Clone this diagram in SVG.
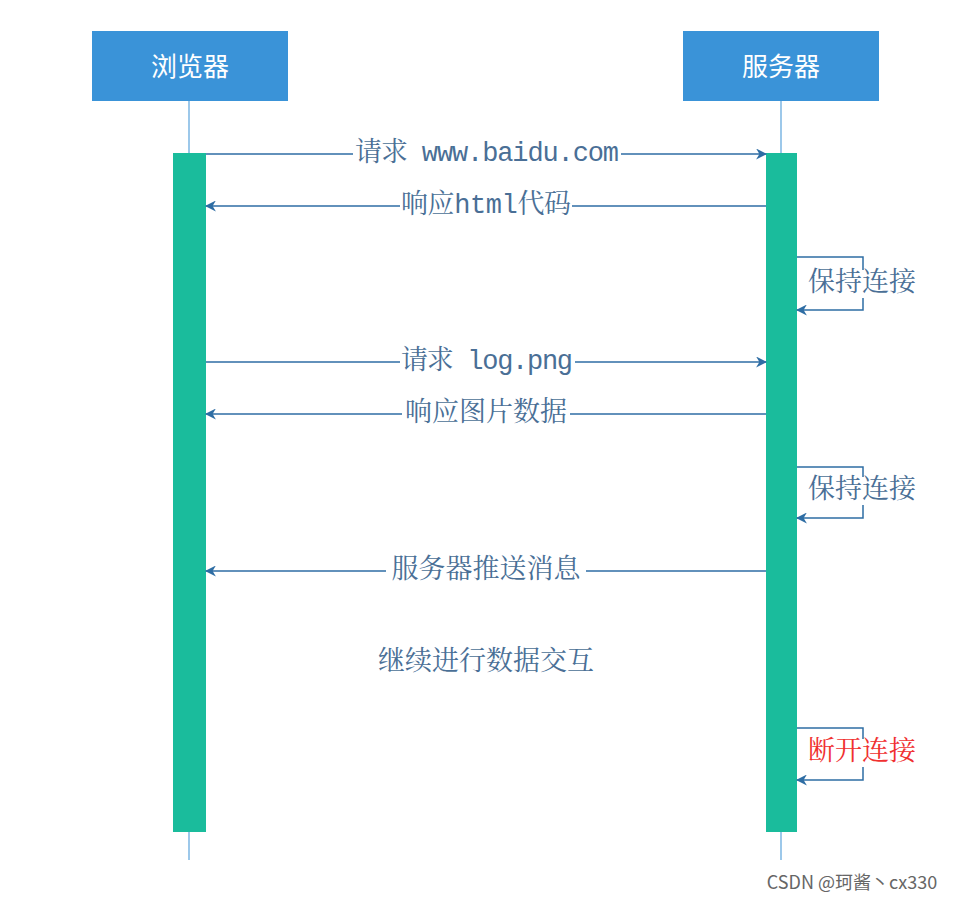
<svg xmlns="http://www.w3.org/2000/svg" width="961" height="901" viewBox="0 0 961 901">
<style>
.head{fill:#3a93d8}
.ht{fill:#fff;font-family:"Noto Sans CJK SC",sans-serif;font-size:26px;text-anchor:middle}
.life{stroke:#5ba3dc;stroke-width:1.2}
.bar{fill:#1abc9c}
.msg{stroke:#2e6da4;stroke-width:1.5;fill:none}
.lbl{font-family:"Liberation Mono","Noto Serif CJK SC","Noto Sans CJK SC",monospace;font-size:27px;fill:#4a6f96;text-anchor:middle;dominant-baseline:central}
.bg{fill:#fff}
</style>
<defs><marker id="ah" viewBox="0 0 10 10" refX="9" refY="5" markerWidth="11" markerHeight="11" markerUnits="userSpaceOnUse" orient="auto"><path d="M0,0L10,5L0,10L3,5z" fill="#2e6da4"/></marker></defs>
<rect width="961" height="901" fill="#fff"/>
<g id="browser"><line class="life" x1="189" y1="101" x2="189" y2="860"/><rect class="head" x="92" y="31" width="196" height="70"/><text class="ht" x="190" y="76">浏览器</text><rect class="bar" x="173" y="153" width="33" height="679"/></g>
<g id="server"><line class="life" x1="781" y1="101" x2="781" y2="860"/><rect class="head" x="683" y="31" width="196" height="70"/><text class="ht" x="781" y="76">服务器</text><rect class="bar" x="766" y="153" width="31" height="679"/></g>
<g id="connectors">
<line class="msg" x1="206" y1="154" x2="766" y2="154" marker-end="url(#ah)"/>
<line class="msg" x1="766" y1="206" x2="206" y2="206" marker-end="url(#ah)"/>
<line class="msg" x1="206" y1="362" x2="766" y2="362" marker-end="url(#ah)"/>
<line class="msg" x1="766" y1="414" x2="206" y2="414" marker-end="url(#ah)"/>
<line class="msg" x1="766" y1="571" x2="206" y2="571" marker-end="url(#ah)"/>
<path class="msg" d="M797,257H863V310H797" marker-end="url(#ah)"/>
<path class="msg" d="M797,467H863V518H797" marker-end="url(#ah)"/>
<path class="msg" d="M797,728H863V780H797" marker-end="url(#ah)"/>
</g>
<g id="labels">
<rect class="bg" x="353" y="140" width="268" height="28"/><text class="lbl" x="487" y="154" textLength="264">请求 www.baidu.com</text>
<rect class="bg" x="400" y="192" width="172" height="28"/><text class="lbl" x="486" y="206" textLength="170">响应html代码</text>
<rect class="bg" x="806" y="270" width="112" height="28"/><text class="lbl" x="862" y="284">保持连接</text>
<rect class="bg" x="400" y="348" width="175" height="28"/><text class="lbl" x="487" y="362" textLength="172">请求 log.png</text>
<rect class="bg" x="402" y="400" width="168" height="28"/><text class="lbl" x="486" y="414">响应图片数据</text>
<rect class="bg" x="806" y="477" width="112" height="28"/><text class="lbl" x="862" y="491">保持连接</text>
<rect class="bg" x="386" y="557" width="200" height="28"/><text class="lbl" x="486" y="571">服务器推送消息</text>
<text class="lbl" x="486" y="663">继续进行数据交互</text>
<rect class="bg" x="806" y="739" width="112" height="28"/><text class="lbl" x="862" y="753" style="fill:#f03030">断开连接</text>
<text x="852" y="889" style="font-family:'Noto Sans CJK SC',sans-serif;font-size:18px;fill:#666;text-anchor:middle">CSDN @珂酱丶cx330</text>
</g>
</svg>
